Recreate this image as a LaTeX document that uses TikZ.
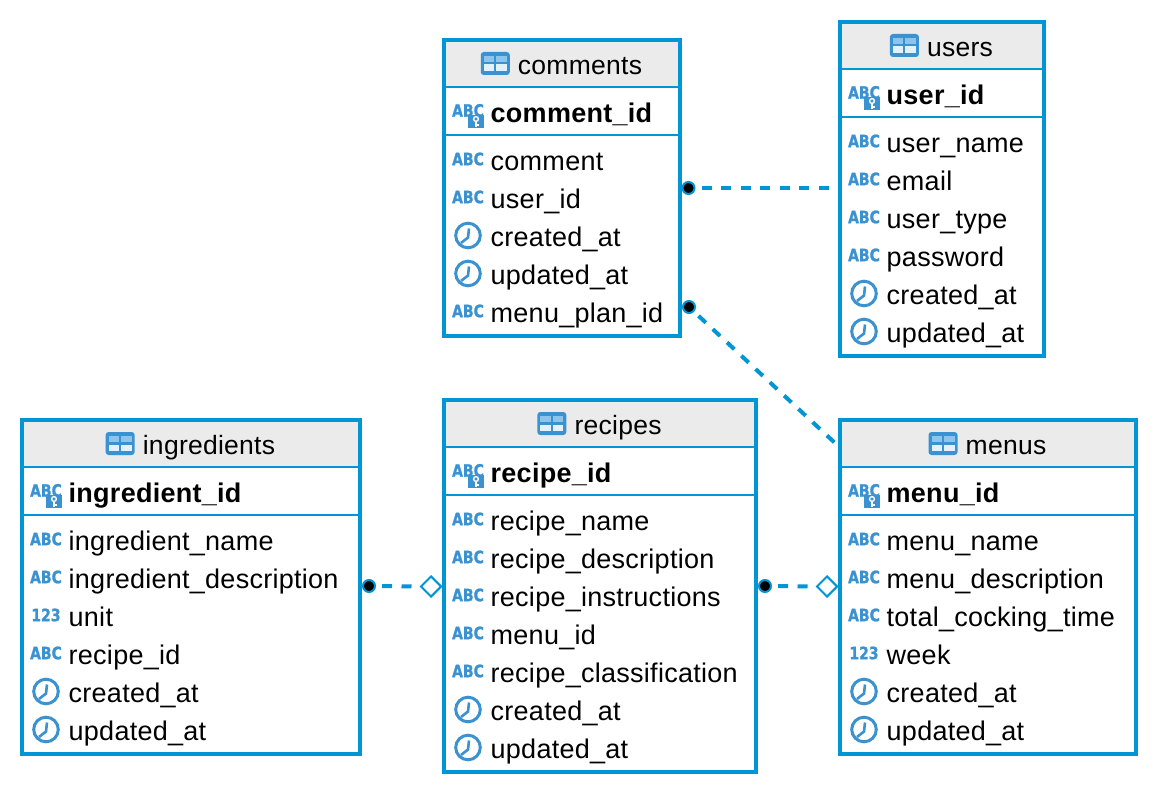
\documentclass[tikz,border=0pt]{standalone}
\usepackage{fontspec}
\usepackage{graphicx}
\setmainfont{Liberation Sans}[LetterSpace=1.0]
\newfontfamily\iconfont{DejaVu Sans Bold}[FakeBold=1.2]
\usetikzlibrary{shapes.geometric,calc}
\definecolor{dbline}{HTML}{0095D5}
\definecolor{dbicon}{HTML}{3B92D1}
\definecolor{dbhead}{HTML}{EBEBEB}
\definecolor{dbpane}{HTML}{8CC4EC}
\definecolor{dbpanew}{HTML}{E4F1FA}
\tikzset{
  x=1pt,y=-1pt,
  tablebox/.style={draw=dbline,line width=4pt,rectangle,inner sep=0pt,outer sep=0pt,anchor=north west},
  headbox/.style={fill=dbhead,rectangle,inner sep=0pt,outer sep=0pt,anchor=north west},
  sepline/.style={draw=dbline,line width=2pt},
  coltext/.style={anchor=base west,inner sep=0pt,font=\fontsize{27}{27}\selectfont,text=black},
  pktext/.style={anchor=base west,inner sep=0pt,font=\fontsize{27}{27}\selectfont\bfseries,text=black},
  titletext/.style={anchor=base,inner sep=0pt,font=\fontsize{26.5}{27}\selectfont,text=black},
  icontext/.style={anchor=center,inner sep=0pt,text=dbicon,font=\iconfont\fontsize{14}{14}\selectfont},
  rel/.style={draw=dbline,line width=4pt,dash pattern=on 10pt off 9.5pt},
  enddot/.style={circle,fill=black,draw=dbline,line width=2pt,minimum size=12pt,inner sep=0pt},
  enddiamond/.style={diamond,draw=dbline,fill=white,line width=2pt,minimum size=21pt,inner sep=0pt,aspect=1},
}
\newcommand{\iconABC}[2]{\node[icontext] at (#1,#2) {\scalebox{1}[1.22]{ABC}};}
\newcommand{\iconNum}[2]{\node[icontext] at (#1,#2) {\scalebox{1}[1.22]{123}};}
\newcommand{\iconClock}[2]{%
  \draw[dbicon,line width=3pt] (#1,#2) circle (12.3pt);
  \draw[dbicon,line width=2.6pt] (#1+1,#2-7) -- (#1,#2+2) -- (#1-7,#2+7.5);}
\newcommand{\iconKey}[2]{%
  \iconABC{#1}{#2-2.5}
  \fill[dbicon] (#1,#2+2) rectangle (#1+16,#2+15);
  \draw[white,line width=1.4pt] (#1+8,#2+6) circle (2.4pt);
  \draw[white,line width=1.8pt] (#1+8,#2+8.5) -- (#1+8,#2+14);
  \draw[white,line width=1.2pt] (#1+8,#2+12) -- (#1+11,#2+12);}
\newcommand{\iconTable}{%
  \fill[dbicon,rounded corners=3pt] (0,0) rectangle (29,23);
  \fill[dbpane] (3,4) rectangle (13.5,10);
  \fill[dbpane] (15.5,4) rectangle (26,10);
  \fill[dbpanew] (3,12.5) rectangle (13.5,19);
  \fill[dbpanew] (15.5,12.5) rectangle (26,19);}
% #1 id, #2 x0, #3 x1, #4 y0, #5 number of rows, #6 title, #7 pk, #8 rows type/label
\newcommand{\dbtable}[8]{%
  \pgfmathsetmacro{\tblw}{#3-#2}
  \pgfmathsetmacro{\tblh}{95+38*#5+11}
  \node[headbox,minimum width=\tblw pt,minimum height=47pt] (#1head) at (#2,#4) {};
  \draw[sepline] (#2,#4+47) -- (#3,#4+47);
  \draw[sepline] (#2,#4+95) -- (#3,#4+95);
  \node[titletext] (#1title) at ({(#2+#3)/2+18},#4+34.5) {#6};
  \begin{scope}[shift={($(#1title.base west)+(-37,-22.5)$)}]\iconTable\end{scope}
  \iconKey{#2+24}{#4+73}
  \node[pktext] (#1pk) at (#2+46.5,#4+82.5) {#7};
  \foreach \ctype/\lab [count=\i from 0] in {#8} {
    \pgfmathsetmacro{\ry}{#4+121+38*\i}
    \ifnum\ctype=1 \iconABC{#2+24}{\ry-2}\fi
    \ifnum\ctype=2 \iconNum{#2+24}{\ry-2}\fi
    \ifnum\ctype=3 \iconClock{#2+24}{\ry-1.5}\fi
    \node[coltext] (#1r\i) at (#2+46.5,\ry+9.5) {\lab};
  }
  \node[tablebox,minimum width=\tblw pt,minimum height=\tblh pt] (#1) at (#2,#4) {};
}
\begin{document}
\begin{tikzpicture}
\useasboundingbox (0,0) rectangle (1158,794);
\fill[white] (0,0) rectangle (1158,794);
\dbtable{comments}{444}{680}{40}{5}{comments}{comment\_id}{1/comment,1/user\_id,3/created\_at,3/updated\_at,1/menu\_plan\_id}
\dbtable{users}{840}{1044}{22}{6}{users}{user\_id}{1/user\_name,1/email,1/user\_type,1/password,3/created\_at,3/updated\_at}
\dbtable{ingredients}{22}{360}{420}{6}{ingredients}{ingredient\_id}{1/ingredient\_name,1/ingredient\_description,2/unit,1/recipe\_id,3/created\_at,3/updated\_at}
\dbtable{recipes}{444}{756}{400}{7}{recipes}{recipe\_id}{1/recipe\_name,1/recipe\_description,1/recipe\_instructions,1/menu\_id,1/recipe\_classification,3/created\_at,3/updated\_at}
\dbtable{menus}{840}{1136}{420}{6}{menus}{menu\_id}{1/menu\_name,1/menu\_description,1/total\_cocking\_time,2/week,3/created\_at,3/updated\_at}
% relationship ends
\node[enddot] (dotA) at (688.5,188) {};
\coordinate (endA) at (833,188);
\node[enddot] (dotB) at (689,307) {};
\coordinate (endB) at (835,443);
\node[enddot] (dotC) at (369,586) {};
\node[enddiamond] (diaC) at (431,586.5) {};
\node[enddot] (dotD) at (765,586) {};
\node[enddiamond] (diaD) at (827,586.5) {};
\draw[rel,shorten <=6pt] (dotA) -- (endA);
\draw[rel,shorten <=6pt] (dotB) -- (endB);
\draw[rel,shorten <=6pt,shorten >=8pt] (dotC) -- (diaC);
\draw[rel,shorten <=6pt,shorten >=8pt] (dotD) -- (diaD);
\end{tikzpicture}
\end{document}
